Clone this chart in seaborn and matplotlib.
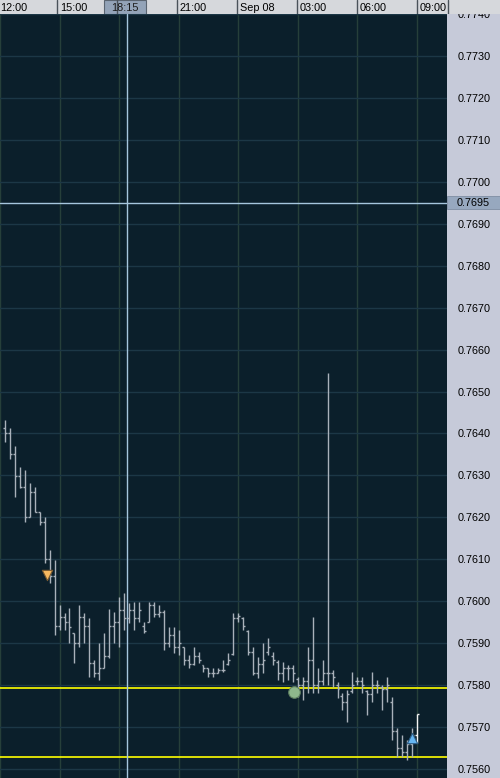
import matplotlib
matplotlib.use("Agg")
import matplotlib.pyplot as plt
import matplotlib.transforms as mtransforms
from matplotlib.patches import Rectangle
import numpy as np
import pandas as pd
import seaborn as sns

# ---------------- data ----------------
# 15-minute bars, time in minutes after 12:00 (Sep 07); first bar 12:15
bar_minutes = [15 * (k + 1) for k in range(84)]

opens = [0.76412, 0.76402, 0.76350, 0.76298, 0.76272, 0.76200, 0.76260, 0.76212, 0.76188, 0.76100,
         0.76060, 0.75940, 0.75962, 0.75950, 0.75924, 0.75900, 0.75962, 0.75940, 0.75852, 0.75830,
         0.75840, 0.75870, 0.75940, 0.75950, 0.75980, 0.75960, 0.75980, 0.75960, 0.75940, 0.75950,
         0.75990, 0.75970, 0.75975, 0.75900, 0.75920, 0.75890, 0.75890, 0.75860, 0.75850, 0.75870,
         0.75848, 0.75840, 0.75830, 0.75830, 0.75835, 0.75850, 0.75875, 0.75960, 0.75960, 0.75930,
         0.75880, 0.75830, 0.75850, 0.75880, 0.75870, 0.75855, 0.75830, 0.75840, 0.75840, 0.75815,
         0.75800, 0.75810, 0.75860, 0.75800, 0.75810, 0.75830, 0.75830, 0.75800, 0.75775, 0.75760,
         0.75785, 0.75810, 0.75810, 0.75785, 0.75780, 0.75800, 0.75795, 0.75790, 0.75760, 0.75690,
         0.75650, 0.75640, 0.75660, 0.75680]
highs = [0.76431, 0.76412, 0.76371, 0.76319, 0.76312, 0.76283, 0.76272, 0.76212, 0.76200, 0.76121,
         0.76098, 0.75990, 0.75971, 0.75983, 0.75924, 0.75990, 0.75971, 0.75960, 0.75860, 0.75900,
         0.75924, 0.75981, 0.75974, 0.76010, 0.76019, 0.75995, 0.75998, 0.75998, 0.75950, 0.75998,
         0.75998, 0.75990, 0.75979, 0.75938, 0.75938, 0.75931, 0.75890, 0.75871, 0.75890, 0.75879,
         0.75848, 0.75840, 0.75840, 0.75840, 0.75860, 0.75876, 0.75971, 0.75971, 0.75962, 0.75931,
         0.75890, 0.75867, 0.75900, 0.75912, 0.75879, 0.75860, 0.75855, 0.75848, 0.75848, 0.75819,
         0.75819, 0.75890, 0.75962, 0.75840, 0.75860, 0.76543, 0.75836, 0.75807, 0.75781, 0.75788,
         0.75831, 0.75819, 0.75819, 0.75788, 0.75831, 0.75812, 0.75800, 0.75819, 0.75771, 0.75698,
         0.75681, 0.75669, 0.75698, 0.75731]
lows = [0.76379, 0.76340, 0.76248, 0.76269, 0.76188, 0.76200, 0.76212, 0.76181, 0.76091, 0.76043,
        0.75919, 0.75931, 0.75931, 0.75900, 0.75852, 0.75890, 0.75900, 0.75819, 0.75819, 0.75812,
        0.75840, 0.75864, 0.75900, 0.75890, 0.75931, 0.75948, 0.75931, 0.75950, 0.75924, 0.75950,
        0.75962, 0.75962, 0.75883, 0.75890, 0.75876, 0.75871, 0.75848, 0.75840, 0.75848, 0.75852,
        0.75831, 0.75819, 0.75819, 0.75829, 0.75831, 0.75848, 0.75871, 0.75950, 0.75931, 0.75871,
        0.75824, 0.75817, 0.75829, 0.75871, 0.75848, 0.75812, 0.75807, 0.75812, 0.75807, 0.75771,
        0.75764, 0.75781, 0.75781, 0.75781, 0.75800, 0.75800, 0.75795, 0.75769, 0.75740, 0.75712,
        0.75781, 0.75800, 0.75781, 0.75729, 0.75760, 0.75781, 0.75740, 0.75760, 0.75669, 0.75629,
        0.75629, 0.75621, 0.75629, 0.75662]
closes = [0.76402, 0.76350, 0.76298, 0.76272, 0.76200, 0.76260, 0.76212, 0.76188, 0.76100, 0.76060,
          0.75940, 0.75962, 0.75950, 0.75938, 0.75900, 0.75962, 0.75940, 0.75852, 0.75830, 0.75840,
          0.75870, 0.75940, 0.75950, 0.75980, 0.75960, 0.75980, 0.75960, 0.75980, 0.75930, 0.75990,
          0.75970, 0.75975, 0.75900, 0.75920, 0.75890, 0.75900, 0.75860, 0.75850, 0.75870, 0.75860,
          0.75840, 0.75830, 0.75830, 0.75835, 0.75835, 0.75860, 0.75960, 0.75965, 0.75940, 0.75880,
          0.75830, 0.75850, 0.75860, 0.75890, 0.75860, 0.75830, 0.75840, 0.75840, 0.75830, 0.75800,
          0.75810, 0.75860, 0.75800, 0.75810, 0.75830, 0.75830, 0.75820, 0.75790, 0.75760, 0.75780,
          0.75800, 0.75810, 0.75800, 0.75780, 0.75800, 0.75800, 0.75790, 0.75800, 0.75690, 0.75650,
          0.75640, 0.75660, 0.75680, 0.75730]

# signal markers
signal_kind = ["sell", "exit", "buy"]
signal_minutes = [142, 889, 1246]
signal_price = [0.76062, 0.75783, 0.75674]

# reference lines
crosshair_minute = 383          # 18:15 cursor
crosshair_price = 0.7695
yellow_levels = [0.75793, 0.75629]

# axis ticks
grid_minutes = [0, 180, 360, 540, 720, 900, 1080, 1260]
time_tick_minutes = [0, 180, 540, 720, 900, 1080, 1260]
time_tick_labels = ["12:00", "15:00", "21:00", "Sep 08", "03:00", "06:00", "09:00"]
cursor_label = "18:15"
price_ticks = [0.7560, 0.7570, 0.7580, 0.7590, 0.7600, 0.7610, 0.7620, 0.7630, 0.7640, 0.7650,
               0.7660, 0.7670, 0.7680, 0.7690, 0.7700, 0.7710, 0.7720, 0.7730, 0.7740]

# ---------------- style ----------------
sns.set_theme(style="dark")
plt.rcParams["font.family"] = ["Liberation Sans", "DejaVu Sans"]

BG = "#0b1f2b"
PANEL = "#c6cad9"
STRIP = "#d6d8dc"
BAR = "#a9b1ba"
VGRID = "#263f3a"
HGRID = "#1c3746"
CROSS = "#a6c6de"

W, H = 500, 778
fig = plt.figure(figsize=(W / 100, H / 100), dpi=100)
fig.patch.set_facecolor(PANEL)

plot_w, strip_h = 447, 14
ax = fig.add_axes([0, 0, plot_w / W, (H - strip_h) / H])
ax.set_facecolor(BG)
x0 = 9.9
ax.set_xlim(x0, x0 + 3 * plot_w)
ax.set_ylim(0.755786, 0.773976)

# grid
ax.set_xticks(grid_minutes)
ax.set_yticks(price_ticks)
ax.xaxis.grid(True, color=VGRID, lw=1.0)
ax.yaxis.grid(True, color=HGRID, lw=1.0)
ax.set_axisbelow(True)
ax.tick_params(axis="x", length=0, labelbottom=False)
ax.yaxis.tick_right()
ax.tick_params(axis="y", length=0, pad=7.5, labelsize=7.8, labelcolor="black")
ax.set_yticklabels([f"{v:.4f}" for v in price_ticks])
for s in ax.spines.values():
    s.set_visible(False)

# reference lines
for lv in yellow_levels:
    ax.axhline(lv, color="#ffff00", lw=1.2, zorder=2)
ax.axvline(crosshair_minute, color=CROSS, lw=1.0, zorder=2)
ax.axhline(crosshair_price, color=CROSS, lw=1.0, zorder=2)

# OHLC bars
t = np.array(bar_minutes, dtype=float)
cols = [BAR] * (len(t) - 1) + ["#f4f4f4"]
tick = 6.0
ax.vlines(t, lows, highs, colors=cols, lw=1.0, zorder=3)
ax.hlines(opens, t - tick, t, colors=cols, lw=1.0, zorder=3)
ax.hlines(closes, t, t + tick, colors=cols, lw=1.0, zorder=3)

# signal markers
sig = pd.DataFrame({"kind": signal_kind, "t": signal_minutes, "price": signal_price})
style = {"sell": ("v", "#f7b860", "#7a5a30", 55),
         "exit": ("o", "#8fb88c", "#5f7f60", 70),
         "buy": ("^", "#66b6f2", "#2f5f88", 55)}
for kind, (m, fc, ec, sz) in style.items():
    sns.scatterplot(data=sig[sig.kind == kind], x="t", y="price", marker=m, color=fc,
                    edgecolor=ec, linewidth=0.8, s=sz, ax=ax, legend=False, zorder=5)
ax.set_xlabel("")
ax.set_ylabel("")

# cursor price box on the right panel
trans = mtransforms.blended_transform_factory(fig.transFigure, ax.transData)
ax.add_patch(Rectangle((plot_w / W, crosshair_price - 0.00016), (W - plot_w) / W, 0.00032,
                       transform=trans, facecolor="#97a8bf", edgecolor="#7f8ea3", lw=0.6,
                       clip_on=False, zorder=6))
ax.text(457 / W, crosshair_price, f"{crosshair_price:.4f}", transform=trans, ha="left",
        va="center", fontsize=7.8, color="black", zorder=7, clip_on=False)

# top time strip
axt = fig.add_axes([0, (H - strip_h) / H, 1, strip_h / H])
axt.set_facecolor(STRIP)
axt.set_xlim(x0, x0 + 3 * W)
axt.set_ylim(0, 1)
axt.set_xticks([])
axt.set_yticks([])
for s in axt.spines.values():
    s.set_visible(False)
for g in grid_minutes:
    axt.axvline(g + 2, color="#4a525a", lw=1.0)
axt.axvline(x0 + 3 * plot_w + 2, color="#4a525a", lw=1.0)
for tm, lab in zip(time_tick_minutes, time_tick_labels):
    axt.text(tm + 9, 0.45, lab, ha="left", va="center", fontsize=7.8, color="black")
bx0, bx1 = x0 + 3 * 104, x0 + 3 * 146
axt.add_patch(Rectangle((bx0, 0), bx1 - bx0, 1, facecolor="#93a3b8", edgecolor="#5a6470", lw=0.8))
axt.text((bx0 + bx1) / 2, 0.45, cursor_label, ha="center", va="center", fontsize=7.8, color="#1a1a1a")

fig.savefig("out.png", dpi=100, facecolor=fig.get_facecolor())
